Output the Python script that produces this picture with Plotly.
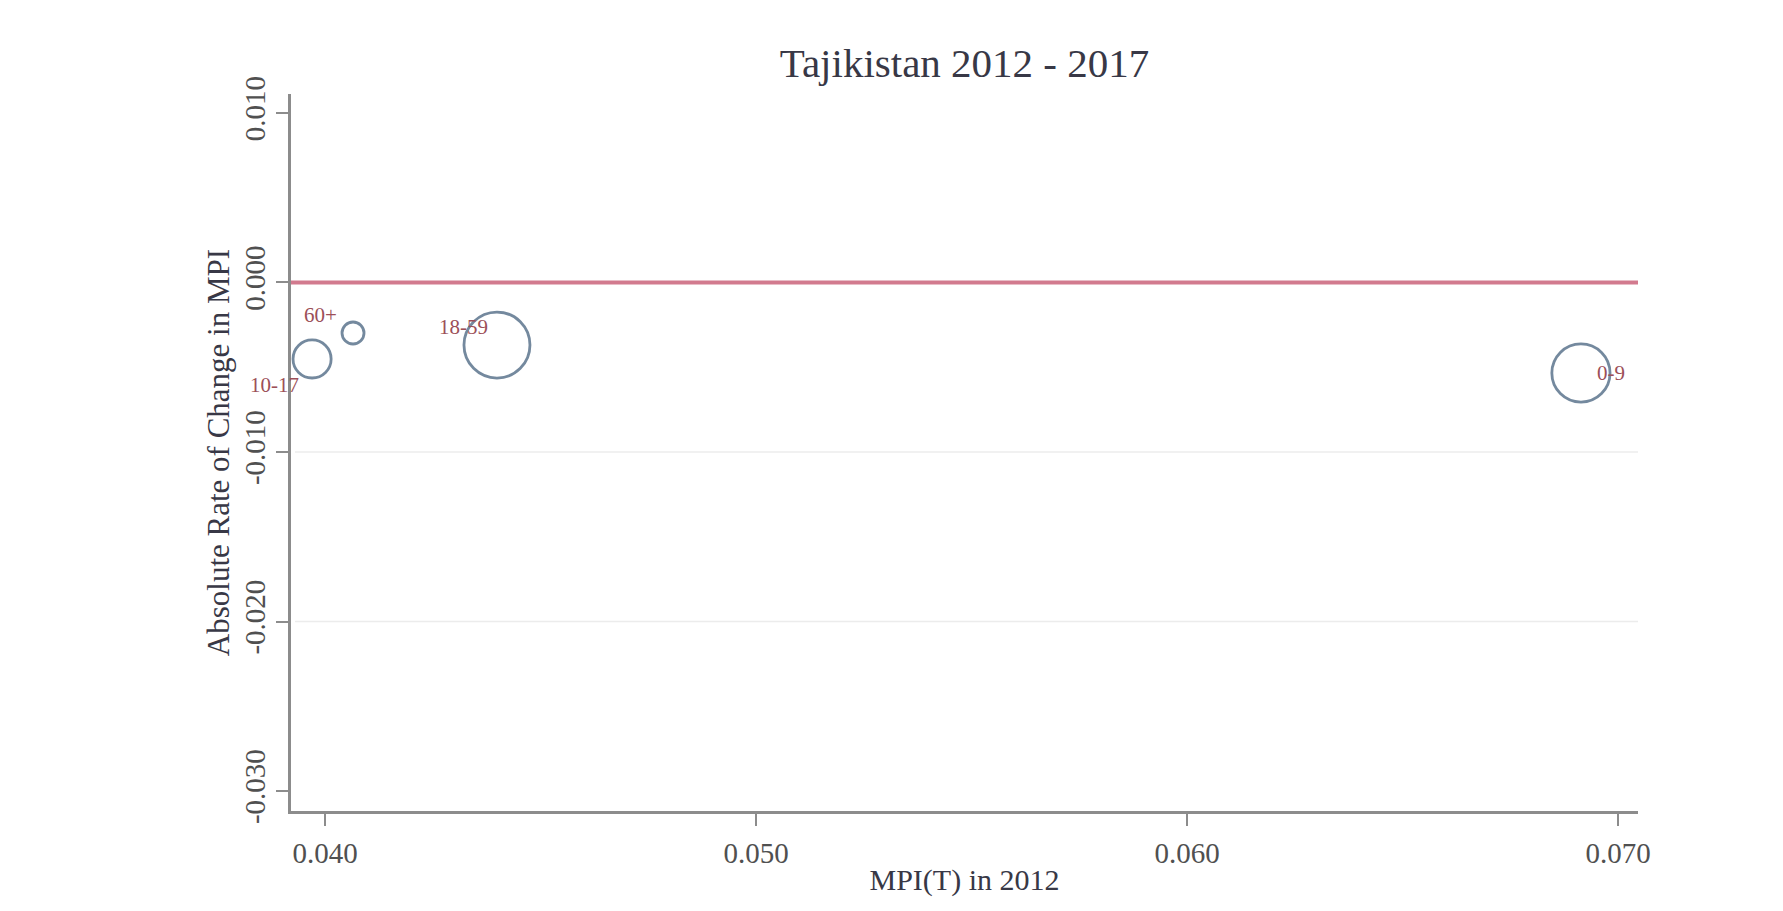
import plotly.graph_objects as go

# ---- data ----
groups = ["0-9", "10-17", "18-59", "60+"]
mpi_2012 = [0.06914, 0.03970, 0.04399, 0.04065]
abs_change = [-0.00534, -0.00451, -0.00369, -0.00298]
pop_share = [0.35, 0.15, 0.45, 0.05]
label_clock = [3, 7, 11, 11]

x_ticks = [0.040, 0.050, 0.060, 0.070]
y_ticks = [-0.030, -0.020, -0.010, 0.000, 0.010]
grid_values = [-0.020, -0.010]
ref_value = 0.0

# ---- styles ----
FONT = "Liberation Serif"
AXIS_COLOR = "#8c8c8c"
TEXT_COLOR = "#505050"
TITLE_COLOR = "#383846"
BUBBLE_COLOR = "#3a5876"
LABEL_COLOR = "#9c4f58"
REF_COLOR = "#d27a8e"
clock_offsets = {3: (30, 0), 7: (-38, -26), 11: (-33, 18)}

max_diam_px = 66
sizeref = 2.0 * max(pop_share) / (max_diam_px ** 2)

fig = go.Figure()

fig.add_trace(go.Scatter(
    x=mpi_2012, y=abs_change, mode="markers",
    marker=dict(size=pop_share, sizemode="area", sizeref=sizeref,
                color="rgba(0,0,0,0)",
                line=dict(color=BUBBLE_COLOR, width=2.8)),
    hoverinfo="skip", showlegend=False,
))

for g, xv, yv, c in zip(groups, mpi_2012, abs_change, label_clock):
    dx, dy = clock_offsets[c]
    fig.add_annotation(x=xv, y=yv, xref="x", yref="y", text=g, showarrow=False,
                       xshift=dx, yshift=dy,
                       font=dict(family=FONT, size=21, color=LABEL_COLOR))

for gv in grid_values:
    fig.add_shape(type="line", xref="paper", yref="y", x0=0.003, x1=1, y0=gv, y1=gv,
                  line=dict(color="#ececec", width=1.5), layer="below")

fig.add_shape(type="line", xref="paper", yref="y", x0=0, x1=1, y0=ref_value, y1=ref_value,
              line=dict(color=REF_COLOR, width=4), layer="above")

fig.update_layout(
    width=1783, height=911,
    paper_bgcolor="white", plot_bgcolor="white",
    margin=dict(l=283, r=153, t=86, b=108),
    title=dict(text="Tajikistan 2012 - 2017", x=0.5, xref="paper",
               y=1 - 55 / 911, yref="container", yanchor="middle", xanchor="center",
               font=dict(family=FONT, size=41, color=TITLE_COLOR)),
    font=dict(family=FONT, color=TEXT_COLOR),
)

fig.update_xaxes(
    range=[0.039211, 0.070464], tickvals=x_ticks,
    ticktext=[f"{v:.3f}" for v in x_ticks],
    showgrid=False, zeroline=False,
    showline=True, linecolor=AXIS_COLOR, linewidth=2.5,
    ticks="outside", ticklen=12, tickwidth=2, tickcolor=AXIS_COLOR,
    ticklabelstandoff=2,
    tickfont=dict(family=FONT, size=29, color=TEXT_COLOR),
    title=dict(text="MPI(T) in 2012", standoff=2,
               font=dict(family=FONT, size=30, color=TITLE_COLOR)),
)

fig.update_yaxes(
    range=[-0.03118, 0.01112], tickvals=y_ticks,
    ticktext=[f"{v:.3f}" for v in y_ticks],
    tickangle=-90,
    showgrid=False, zeroline=False,
    showline=True, linecolor=AXIS_COLOR, linewidth=2.5,
    ticks="outside", ticklen=12, tickwidth=2, tickcolor=AXIS_COLOR,
    tickfont=dict(family=FONT, size=29, color=TEXT_COLOR),
    title=dict(text="Absolute Rate of Change in MPI", standoff=0,
               font=dict(family=FONT, size=31, color=TITLE_COLOR)),
)

fig.write_html("out.html")
